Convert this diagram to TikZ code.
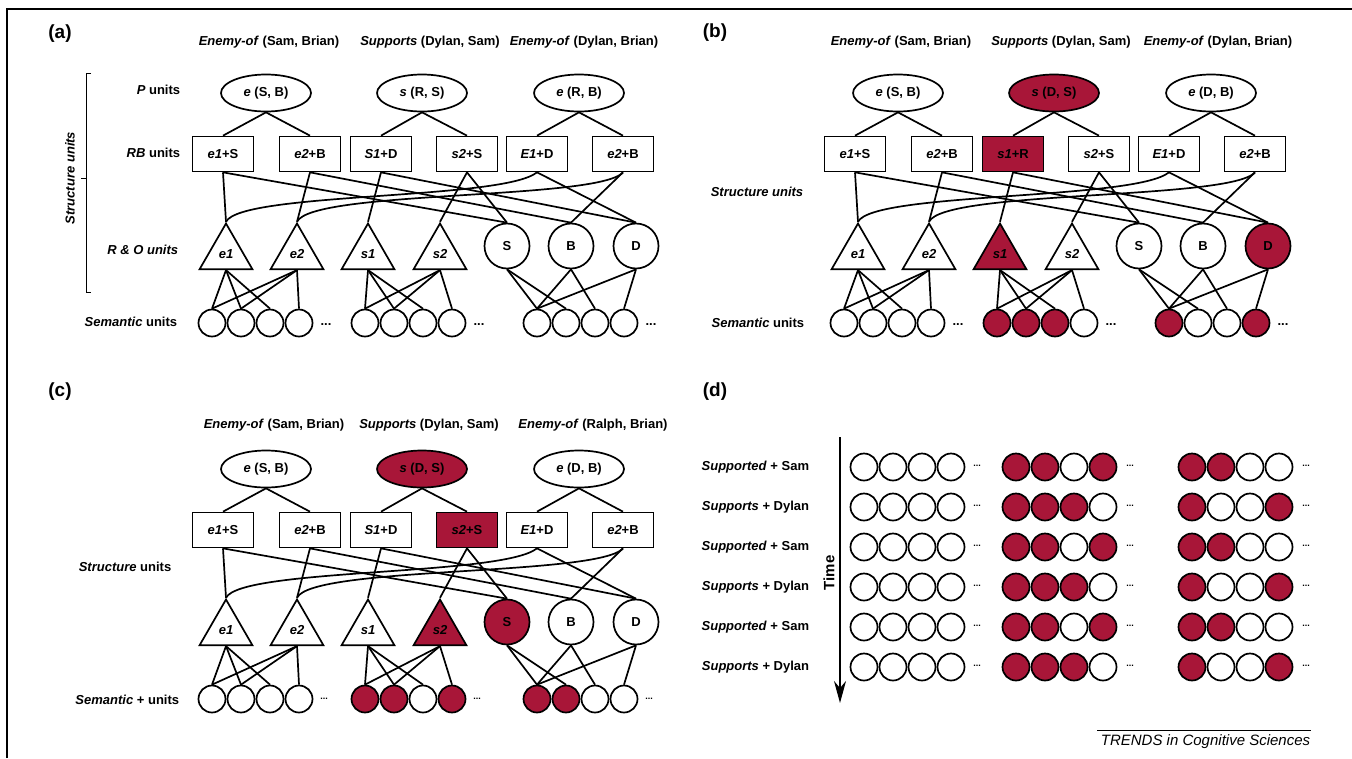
\documentclass[tikz,border=0pt]{standalone}
\usepackage{fontspec}
\setmainfont{Liberation Sans}
\usetikzlibrary{shapes.geometric, arrows.meta}
\definecolor{actred}{RGB}{168,22,56}
\tikzset{
  lbl/.style={font=\bfseries\fontsize{13}{15}\selectfont, inner sep=0pt},
  panel/.style={font=\bfseries\fontsize{19}{22}\selectfont, inner sep=0pt},
  punit/.style={lbl, ellipse, draw, fill=white, minimum width=90pt, minimum height=37pt},
  rbunit/.style={lbl, rectangle, draw, fill=white, minimum width=61pt, minimum height=35pt},
  runit/.style={lbl, regular polygon, regular polygon sides=3, draw, fill=white, minimum size=61pt},
  ounit/.style={lbl, circle, draw, fill=white, minimum size=45pt},
  sem/.style={circle, draw, fill=white, minimum size=27pt, inner sep=0pt},
  more/.style={lbl},
  fire/.style={fill=actred}
}
\begin{document}
\begin{tikzpicture}[x=1pt, y=-1pt, line width=1.7pt]
\useasboundingbox (0,0) rectangle (1352,758);
\draw[line width=1.4pt] (7,758) -- (7,9) -- (1352,9);

% (a)
\begin{scope}
  \node[panel] at (60,34) {(a)};
  \node[lbl] at (269,42) {\textit{Enemy-of} (Sam, Brian)};
  \node[lbl] at (430,42) {\textit{Supports} (Dylan, Sam)};
  \node[lbl] at (584,42) {\textit{Enemy-of} (Dylan, Brian)};
  \draw[line width=0.9pt] (91,73) -- (86,73) -- (86,292) -- (91,292);
  \draw[line width=0.9pt] (86,178) -- (81,178);
  \node[lbl, rotate=90] at (70,178) {\textit{Structure units}};
  \node[lbl, anchor=east] at (181,90) {\textit{P} units};
  \node[lbl, anchor=east] at (181,153) {\textit{RB} units};
  \node[lbl, anchor=east] at (179,250) {\textit{R \& O units}};
  \node[lbl, anchor=east] at (178,322) {\textit{Semantic} units};
  \node[punit] (a-p1) at (266,93) {\textit{e} (S, B)};
  \node[punit] (a-p2) at (422,93) {\textit{s} (R, S)};
  \node[punit] (a-p3) at (579,93) {\textit{e} (R, B)};
  \node[rbunit] (a-rb1) at (223,154) {\textit{e1}+S};
  \node[rbunit] (a-rb2) at (310,154) {\textit{e2}+B};
  \node[rbunit] (a-rb3) at (381,154) {\textit{S1}+D};
  \node[rbunit] (a-rb4) at (467,154) {\textit{s2}+S};
  \node[rbunit] (a-rb5) at (537,154) {\textit{E1}+D};
  \node[rbunit] (a-rb6) at (623,154) {\textit{e2}+B};
  \node[runit] (a-r1) at (226,254) {\textit{e1}};
  \node[runit] (a-r2) at (297,254) {\textit{e2}};
  \node[runit] (a-r3) at (368,254) {\textit{s1}};
  \node[runit] (a-r4) at (440,254) {\textit{s2}};
  \node[ounit] (a-o1) at (507,246) {S};
  \node[ounit] (a-o2) at (571,246) {B};
  \node[ounit] (a-o3) at (636,246) {D};
  \foreach \g/\gx/\ca/\cb/\cc/\cd in {1/212/white/white/white/white,2/365/white/white/white/white,3/537/white/white/white/white}{
    \foreach \k/\col in {1/\ca,2/\cb,3/\cc,4/\cd}
      \node[sem, fill=\col] (a-s\g\k) at ({\gx+29*(\k-1)},323) {};
    \node[more] at ({\gx+114},325) {...};
  }
\end{scope}

% (b)
\begin{scope}[shift={(632,0)}]
  \node[panel] at (83,33) {(b)};
  \node[lbl] at (269,42) {\textit{Enemy-of} (Sam, Brian)};
  \node[lbl] at (429,42) {\textit{Supports} (Dylan, Sam)};
  \node[lbl] at (586,42) {\textit{Enemy-of} (Dylan, Brian)};
  \node[lbl] at (125,192) {\textit{Structure units}};
  \node[lbl, anchor=east] at (173,323) {\textit{Semantic} units};
  \node[punit] (b-p1) at (266,93) {\textit{e} (S, B)};
  \node[punit, fire] (b-p2) at (422,93) {\textit{s} (D, S)};
  \node[punit] (b-p3) at (579,93) {\textit{e} (D, B)};
  \node[rbunit] (b-rb1) at (223,154) {\textit{e1}+S};
  \node[rbunit] (b-rb2) at (310,154) {\textit{e2}+B};
  \node[rbunit, fire] (b-rb3) at (381,154) {\textit{s1}+R};
  \node[rbunit] (b-rb4) at (467,154) {\textit{s2}+S};
  \node[rbunit] (b-rb5) at (537,154) {\textit{E1}+D};
  \node[rbunit] (b-rb6) at (623,154) {\textit{e2}+B};
  \node[runit] (b-r1) at (226,254) {\textit{e1}};
  \node[runit] (b-r2) at (297,254) {\textit{e2}};
  \node[runit, fire] (b-r3) at (368,254) {\textit{s1}};
  \node[runit] (b-r4) at (440,254) {\textit{s2}};
  \node[ounit] (b-o1) at (507,246) {S};
  \node[ounit] (b-o2) at (571,246) {B};
  \node[ounit, fire] (b-o3) at (636,246) {D};
  \foreach \g/\gx/\ca/\cb/\cc/\cd in {1/212/white/white/white/white,2/365/actred/actred/actred/white,3/537/actred/white/white/actred}{
    \foreach \k/\col in {1/\ca,2/\cb,3/\cc,4/\cd}
      \node[sem, fill=\col] (b-s\g\k) at ({\gx+29*(\k-1)},323) {};
    \node[more] at ({\gx+114},325) {...};
  }
\end{scope}

% (c)
\begin{scope}[shift={(0,376)}, more/.style={font=\bfseries\fontsize{9}{10}\selectfont, inner sep=0pt}]
  \node[panel] at (60,16) {(c)};
  \node[lbl] at (274,49) {\textit{Enemy-of} (Sam, Brian)};
  \node[lbl] at (429,49) {\textit{Supports} (Dylan, Sam)};
  \node[lbl] at (593,49) {\textit{Enemy-of} (Ralph, Brian)};
  \node[lbl] at (125,191) {\textit{Structure} units};
  \node[lbl, anchor=east] at (180,324) {\textit{Semantic} + units};
  \node[punit] (c-p1) at (266,93) {\textit{e} (S, B)};
  \node[punit, fire] (c-p2) at (422,93) {\textit{s} (D, S)};
  \node[punit] (c-p3) at (579,93) {\textit{e} (D, B)};
  \node[rbunit] (c-rb1) at (223,154) {\textit{e1}+S};
  \node[rbunit] (c-rb2) at (310,154) {\textit{e2}+B};
  \node[rbunit] (c-rb3) at (381,154) {\textit{S1}+D};
  \node[rbunit, fire] (c-rb4) at (467,154) {\textit{s2}+S};
  \node[rbunit] (c-rb5) at (537,154) {\textit{E1}+D};
  \node[rbunit] (c-rb6) at (623,154) {\textit{e2}+B};
  \node[runit] (c-r1) at (226,254) {\textit{e1}};
  \node[runit] (c-r2) at (297,254) {\textit{e2}};
  \node[runit] (c-r3) at (368,254) {\textit{s1}};
  \node[runit, fire] (c-r4) at (440,254) {\textit{s2}};
  \node[ounit, fire] (c-o1) at (507,246) {S};
  \node[ounit] (c-o2) at (571,246) {B};
  \node[ounit] (c-o3) at (636,246) {D};
  \foreach \g/\gx/\ca/\cb/\cc/\cd in {1/212/white/white/white/white,2/365/actred/actred/white/actred,3/537/actred/actred/white/white}{
    \foreach \k/\col in {1/\ca,2/\cb,3/\cc,4/\cd}
      \node[sem, fill=\col] (c-s\g\k) at ({\gx+29*(\k-1)},323) {};
    \node[more] at ({\gx+112},323) {...};
  }
\end{scope}

% wiring of (a), (b), (c)
\foreach \p in {a,b,c}{
  \foreach \i/\j in {1/1,1/2,2/3,2/4,3/5,3/6}
    \draw (\p-p\i.south) -- (\p-rb\j.north);
  \foreach \j/\tgt in {1/r1,2/r2,3/r3,4/r4,1/o1,2/o2,3/o3,4/o1,5/o3,6/o2}
    \draw (\p-rb\j.south) -- (\p-\tgt.north);
  \draw (\p-rb5.south) .. controls +(-35,28) and +(15,-30) .. (\p-r1.north);
  \draw (\p-rb6.south) .. controls +(-25,28) and +(15,-32) .. (\p-r2.north);
  \foreach \src/\sg in {r1/11,r1/12,r1/13,r2/11,r2/12,r2/14,r3/21,r3/22,r3/23,r4/21,r4/22,r4/24,o1/31,o1/32,o2/31,o2/33,o3/31,o3/34}
    \draw (\p-\src.south) -- (\p-s\sg.north);
}

% (d)
\begin{scope}[more/.style={font=\bfseries\fontsize{9}{10}\selectfont, inner sep=0pt}]
  \node[panel] at (715,392) {(d)};
  \coordinate (d-t0) at (840,437);
  \coordinate (d-t1) at (840,703);
  \draw[-{Stealth[length=22pt, width=12pt, inset=7pt]}] (d-t0) -- (d-t1);
  \node[lbl, font=\bfseries\fontsize{15}{17}\selectfont, rotate=90] at (829,573) {Time};
  \foreach \n/\lab/\ca/\cb in {0/{\textit{Supported} + Sam}/white/actred,1/{\textit{Supports} + Dylan}/actred/white,2/{\textit{Supported} + Sam}/white/actred,3/{\textit{Supports} + Dylan}/actred/white,4/{\textit{Supported} + Sam}/white/actred,5/{\textit{Supports} + Dylan}/actred/white}{
    \node[lbl, anchor=east] (d-l\n) at (810,{467+40*\n}) {\lab};
    \foreach \k in {1,...,4}
      \node[sem] (d-\n-1\k) at ({864+29*(\k-1)},{467+40*\n}) {};
    \foreach \k/\col in {1/actred,2/actred,3/\ca,4/\cb}
      \node[sem, fill=\col] (d-\n-2\k) at ({1016+29*(\k-1)},{467+40*\n}) {};
    \foreach \k/\col in {1/actred,2/\cb,3/white,4/\ca}
      \node[sem, fill=\col] (d-\n-3\k) at ({1192+29*(\k-1)},{467+40*\n}) {};
    \foreach \gx in {977,1130,1306}
      \node[more] at (\gx,{466+40*\n}) {...};
  }
  \draw[line width=0.8pt] (1097,730) -- (1311,730);
  \node[anchor=east, inner sep=0pt, font=\itshape\fontsize{15}{17}\selectfont] at (1311,742) {TRENDS in Cognitive Sciences};
\end{scope}
\end{tikzpicture}
\end{document}
